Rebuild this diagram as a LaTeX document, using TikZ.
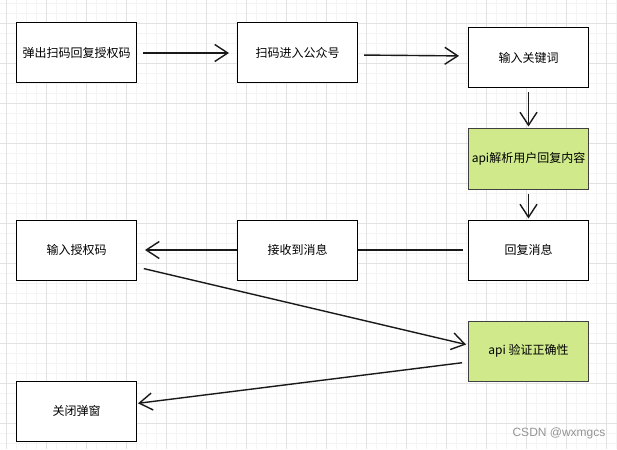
\documentclass[tikz,border=0pt]{standalone}
\usepackage{fontspec}
\usepackage{tikz}
\usetikzlibrary{positioning,arrows.meta}
\newfontfamily\cjk{Noto Sans CJK SC}
\newfontfamily\wmfont{Liberation Sans}
\definecolor{apigreen}{RGB}{207,233,139}
\definecolor{gridmajor}{RGB}{226,226,226}
\definecolor{gridminor}{RGB}{244,244,244}

\begin{document}
\begin{tikzpicture}[x=1pt,y=-1pt,>={Straight Barb[length=13pt,width=17pt]},line width=1.4pt,
    main node/.style={draw,line width=1pt,minimum width=120pt,minimum height=60pt,inner sep=0pt,font=\cjk\fontsize{12}{14}\selectfont},
    api node/.style={main node,fill=apigreen,draw=black!75}]
\useasboundingbox (0,0) rectangle (617,449);
\fill[white] (0,0) rectangle (617,449);
% grid
\foreach \x in {6.7,16.7,...,617} \draw[gridminor,line width=1pt] (\x,0) -- (\x,449);
\foreach \y in {3.3,13.3,...,449} \draw[gridminor,line width=1pt] (0,\y) -- (617,\y);
\foreach \x in {6.7,46.7,...,617} \draw[gridmajor,line width=1pt] (\x,0) -- (\x,449);
\foreach \y in {23.3,63.3,...,449} \draw[gridmajor,line width=1pt] (0,\y) -- (617,\y);

\node[main node,fill=white] (1) at (76.5,53) {弹出扫码回复授权码};
\node[main node,fill=white] (2) [right=100pt of 1] {扫码进入公众号};
\node[main node,fill=white] (3) [right=110pt of 2,yshift=-5pt] {输入关键词};
\node[api node] (4) [below=40pt of 3] {api解析用户回复内容};
\node[main node,fill=white] (5) [below=30pt of 4] {回复消息};
\node[main node,fill=white] (6) [left=110pt of 5] {接收到消息};
\node[main node,fill=white] (7) [left=100pt of 6] {输入授权码};
\node[api node] (8) [below=40pt of 5] {api 验证正确性};
\node[main node,fill=white] (9) [below=100pt of 7] {关闭弹窗};

\path[draw=black!90]
    (1) edge[->,shorten <=6pt,shorten >=8pt] (2)
    ([yshift=-2pt]2.east) edge[->,shorten <=6pt,shorten >=9pt] ([yshift=2pt]3.west)
    (3) edge[->,shorten <=4pt,shorten >=2pt] (4)
    (4) edge[->,shorten <=4pt,shorten >=1pt] (5)
    (5) edge[shorten <=5pt] (6)
    (6) edge[->,shorten >=8pt] (7)
    ([yshift=-17pt]7.east) edge[->,shorten <=7pt,shorten >=2pt] ([yshift=6pt]8.west)
    ([yshift=-11pt]8.west) edge[->,shorten <=6pt,shorten >=1pt] (9)
;

\node[text=black!42,font=\wmfont\fontsize{12}{14}\selectfont] (wm) at (559,433) {CSDN @wxmgcs};
\end{tikzpicture}
\end{document}
